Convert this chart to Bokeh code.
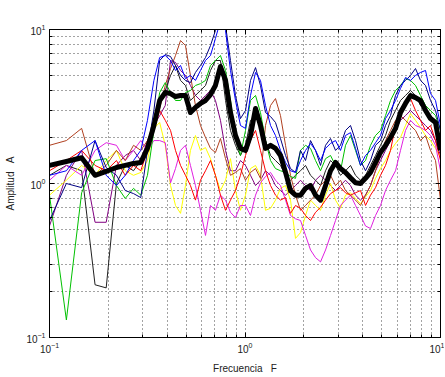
from bokeh.plotting import figure
from bokeh.models import FixedTicker, LogAxis, Label
from bokeh.embed import file_html
from bokeh.resources import INLINE

# Frequencies (Hz)
freq = [0.100, 0.122, 0.146, 0.171, 0.195, 0.220, 0.244, 0.269, 0.293, 0.317, 0.342, 0.366, 0.391,
        0.416, 0.441, 0.468, 0.496, 0.526, 0.558, 0.592, 0.628, 0.666, 0.706, 0.749, 0.795, 0.843,
        0.894, 0.948, 1.006, 1.067, 1.132, 1.200, 1.273, 1.351, 1.432, 1.519, 1.612, 1.709, 1.813,
        1.923, 2.040, 2.164, 2.295, 2.434, 2.582, 2.738, 2.904, 3.080, 3.267, 3.465, 3.676, 3.898,
        4.135, 4.386, 4.652, 4.933, 5.233, 5.550, 5.888, 6.244, 6.622, 7.024, 7.450, 7.902, 8.381,
        8.89, 9.43, 10.0]

blue_amp = [1.13, 1.21, 1.64, 1.90, 1.13, 0.97, 1.13, 1.41, 1.64, 2.57, 4.67, 6.58, 6.78,
            6.29, 5.42, 5.84, 4.80, 5.03, 4.67, 5.42, 6.29, 6.78, 8.74, 11.4, 9.85, 5.42, 3.46, 2.38, 2.28,
            3.73, 5.26, 4.67, 3.21, 2.38, 2.05, 1.64, 1.37, 1.21, 1.18,
            1.41, 1.64, 1.82, 1.64, 1.41, 1.69, 1.82, 1.90, 1.64, 2.05, 2.14, 1.69, 1.31, 1.52, 1.64, 1.84,
            2.05, 2.64, 2.98, 3.46, 4.14, 4.88, 4.67, 5.03, 5.26, 5.42, 3.84, 3.46, 2.38]

navy_amp = [0.575, 1.0, 0.94, 1.90, 1.27, 1.13, 0.90, 0.86, 0.81, 1.64, 2.98, 6.29, 6.88,
            6.68, 5.84, 5.03, 4.67, 4.52, 5.26, 5.84, 6.58, 7.87, 9.85, 10.6, 10.6, 6.29, 3.73, 2.64, 2.98,
            4.67, 5.66, 4.33, 2.89, 2.72, 2.49, 1.96, 1.52, 1.25, 1.18,
            1.64, 1.41, 1.90, 1.64, 1.31, 1.77, 1.96, 1.64, 1.77, 2.21, 2.38, 1.90, 1.41, 1.21, 1.41, 1.77,
            1.90, 2.38, 2.76, 3.73, 4.33, 4.67, 5.03, 5.58, 4.67, 4.33, 3.46, 2.98, 2.21]

green_amp = [0.84, 0.13, 0.87, 1.41, 1.45, 0.97, 0.80, 0.93, 0.84, 1.13, 2.21, 3.90, 4.52,
             3.90, 3.46, 3.46, 3.90, 4.02, 4.33, 4.45, 4.67, 5.84, 6.29, 6.78, 5.42, 3.46, 1.96, 1.52, 2.21,
             3.46, 3.73, 2.89, 1.90, 1.41, 1.25, 1.21, 1.18, 1.11, 1.08,
             1.64, 1.77, 1.69, 1.41, 1.21, 1.45, 1.52, 1.31, 1.21, 1.77, 2.05, 1.64, 1.31, 1.41, 1.77, 2.05,
             2.21, 2.76, 3.46, 4.02, 4.33, 4.80, 4.67, 4.33, 3.73, 3.21, 2.98, 2.76, 2.21]

red_amp = [1.21, 1.41, 1.64, 1.31, 1.21, 1.41, 1.13, 1.31, 1.21, 1.64, 2.21, 2.98, 2.57,
           2.21, 1.64, 1.31, 1.13, 0.97, 0.78, 1.05, 1.21, 1.41, 1.13, 0.84, 0.67, 0.78, 0.90, 1.13, 1.52,
           1.90, 2.21, 1.64, 1.21, 0.97, 0.84, 0.78, 0.81, 0.64, 0.72,
           0.69, 0.62, 0.575, 0.65, 0.70, 0.78, 0.86, 0.90, 0.94, 0.87, 0.84, 0.87, 0.90, 0.72, 0.84, 0.94,
           1.13, 1.31, 1.64, 2.38, 2.98, 3.46, 3.56, 2.98, 2.57, 2.21, 2.38, 1.90, 1.41]

brown_amp = [1.77, 1.90, 2.28, 1.13, 1.31, 1.64, 1.41, 1.77, 1.64, 1.90, 2.38, 3.07, 4.33,
             5.58, 6.78, 8.48, 7.87, 5.03, 3.21, 2.38, 1.99, 1.69, 1.59, 1.96, 1.45, 1.13, 1.18, 1.25, 1.05,
             1.18, 1.25, 1.08, 2.38, 3.21, 3.56, 2.76, 1.77, 1.13, 0.84,
             0.67, 0.72, 0.78, 0.84, 0.97, 1.05, 1.13, 0.97, 1.05, 0.90, 0.84, 0.78, 0.72, 0.84, 0.97, 1.21,
             1.52, 1.90, 2.21, 2.57, 2.76, 2.57, 2.38, 2.21, 1.90, 2.05, 1.64, 1.41, 0.78]

magenta_amp = [1.05, 1.31, 1.13, 1.64, 1.84, 1.77, 1.41, 1.64, 1.90, 1.64, 1.90, 1.90, 1.84,
               1.01, 1.25, 1.64, 1.77, 1.31, 0.97, 0.67, 0.46, 0.72, 0.67, 0.84, 0.78, 0.65, 0.60, 0.72, 0.72,
               0.62, 0.84, 1.01, 1.11, 1.18, 1.05, 0.97, 0.78, 0.62, 0.59,
               0.575, 0.46, 0.37, 0.33, 0.31, 0.37, 0.46, 0.575, 0.72, 0.78, 0.84, 0.72, 0.62, 0.53, 0.51, 0.62,
               0.72, 0.90, 1.05, 1.21, 1.64, 2.21, 2.57, 2.38, 2.31, 2.21, 2.05, 1.77, 1.21]

yellow_amp = [0.84, 1.05, 1.31, 1.13, 1.41, 1.64, 1.21, 1.13, 1.18, 1.41, 2.28, 2.49, 1.77,
              0.97, 0.72, 0.64, 0.97, 1.64, 2.05, 1.64, 1.71, 1.45, 1.13, 0.90, 1.05, 1.45, 0.90, 0.67, 0.84,
              1.25, 1.31, 1.13, 0.67, 0.69, 0.78, 0.93, 0.97, 0.78, 0.44,
              0.48, 0.62, 0.78, 0.72, 0.67, 0.84, 1.0, 0.78, 0.69, 0.84, 0.87, 0.80, 0.74, 0.82, 0.90, 1.08,
              1.25, 1.41, 1.64, 1.82, 1.99, 2.38, 2.84, 2.57, 2.31, 2.05, 1.90, 1.69, 1.48]

gray_amp = [1.13, 1.31, 1.21, 0.22, 0.21, 1.0, 1.31, 1.21, 1.41, 1.64, 2.57, 3.46, 4.02,
            5.03, 5.84, 4.67, 4.33, 3.46, 3.73, 4.02, 4.33, 5.42, 6.29, 6.29, 3.46, 2.21, 1.77, 1.52, 1.77,
            2.57, 2.76, 2.38, 1.90, 1.52, 1.41, 1.31, 1.13, 1.05, 1.13,
            1.21, 1.31, 1.13, 1.05, 0.97, 1.21, 1.41, 1.31, 1.13, 1.21, 1.31, 1.13, 1.05, 1.13, 1.31, 1.52,
            1.77, 2.05, 2.57, 2.98, 3.46, 3.73, 4.02, 3.73, 3.21, 2.98, 2.76, 2.57, 1.90]

purple_amp = [0.53, 1.13, 1.64, 0.56, 0.56, 1.31, 1.52, 1.64, 1.41, 1.90, 2.38, 2.76, 3.21,
              6.29, 6.11, 5.42, 5.03, 4.33, 3.73, 3.46, 3.73, 4.02, 3.46, 2.57, 1.64, 1.21, 1.21, 1.41, 1.31,
              1.13, 0.97, 1.05, 1.21, 1.13, 0.97, 0.90, 0.84, 0.90, 0.97,
              1.05, 0.97, 0.90, 1.05, 1.13, 1.05, 0.97, 0.90, 0.97, 1.05, 0.97, 0.84, 0.78, 0.84, 0.97, 1.21,
              1.41, 1.64, 1.90, 2.21, 2.57, 2.76, 2.98, 2.76, 2.57, 2.38, 2.21, 1.90, 1.52]

mean_amp = [1.31, 1.39, 1.47, 1.13, 1.20, 1.27, 1.31, 1.35, 1.37, 1.69, 2.38, 3.46, 3.90,
            3.84, 3.67, 3.73, 3.73, 2.89, 3.12, 3.31, 3.46, 3.78, 4.33, 5.75, 4.67, 2.89, 2.05, 1.69, 1.64,
            2.05, 3.07, 2.38, 1.69, 1.77, 1.69, 1.52, 1.18, 0.90, 0.84,
            0.84, 0.93, 0.97, 0.84, 0.78, 0.97, 1.21, 1.37, 1.25, 1.18, 1.09, 1.01, 1.0, 1.08, 1.18, 1.37,
            1.59, 1.77, 1.99, 2.28, 2.89, 3.31, 3.73, 3.61, 3.46, 2.98, 2.64, 2.49, 1.64]

title_text = "PUNTO C27 APIZACO TLAX."
x_label = "Frecuencia\u00a0\u00a0\u00a0F"
y_label = "Amplitud\u00a0\u00a0\u00a0A"

major_ticks = [0.1, 1, 10]
minor_ticks = [0.2, 0.3, 0.4, 0.5, 0.6, 0.7, 0.8, 0.9, 2, 3, 4, 5, 6, 7, 8, 9]

series = [
    (purple_amp, "#800080"),
    (gray_amp, "#202020"),
    (yellow_amp, "#ffff00"),
    (magenta_amp, "#e020e0"),
    (brown_amp, "#b04020"),
    (red_amp, "#ff0000"),
    (green_amp, "#00c000"),
    (navy_amp, "#000080"),
    (blue_amp, "#0000ff"),
]

for s, _ in series:
    assert len(s) == len(freq)
assert len(mean_amp) == len(freq)

FONT = "Liberation Sans"

p = figure(width=444, height=376, x_axis_type="log", y_axis_type="log",
           x_range=(0.1, 10), y_range=(0.1, 10),
           output_backend="svg", toolbar_location=None,
           min_border_left=49, min_border_right=4, min_border_top=29, min_border_bottom=39)
p.background_fill_color = "white"
p.border_fill_color = "white"
p.outline_line_color = "black"
p.outline_line_width = 1

ticker = FixedTicker(ticks=major_ticks, minor_ticks=minor_ticks)
for ax in (p.xaxis[0], p.yaxis[0]):
    ax.ticker = ticker
    ax.major_tick_in = 5
    ax.major_tick_out = 0
    ax.minor_tick_in = 3
    ax.minor_tick_out = 0
    ax.major_label_text_font = FONT
    ax.major_label_text_font_size = "10px"
    ax.major_label_text_color = "#222222"
    ax.axis_label_text_font = FONT
    ax.axis_label_text_font_size = "10px"
    ax.axis_label_text_font_style = "normal"
    ax.axis_label_text_color = "#222222"
    ax.axis_line_color = "black"
    ax.major_label_standoff = 4
    ax.axis_label_standoff = 7

p.xaxis[0].axis_label = x_label
p.yaxis[0].axis_label = y_label

for loc in ("right", "above"):
    ax = LogAxis(ticker=ticker, major_tick_in=5, major_tick_out=0, minor_tick_in=3, minor_tick_out=0,
                 major_label_text_color=None, major_label_text_font_size="8px",
                 major_label_standoff=0, axis_line_color="black")
    p.add_layout(ax, loc)

for g in (p.xgrid[0], p.ygrid[0]):
    g.ticker = ticker
    g.grid_line_color = "#333333"
    g.grid_line_dash = "1 3"
    g.grid_line_alpha = 0.9
    g.minor_grid_line_color = "#333333"
    g.minor_grid_line_dash = "1 3"
    g.minor_grid_line_alpha = 0.9

for s, c in series:
    p.line(freq, s, line_color=c, line_width=1)

p.line(freq, mean_amp, line_color="black", line_width=5, line_join="round")

p.add_layout(Label(x=1, y=10, y_offset=9, text=title_text, text_align="center", text_baseline="bottom",
                   text_font=FONT, text_font_size="11px", text_color="#222222"))

open("out.html", "w").write(file_html(p, INLINE))
